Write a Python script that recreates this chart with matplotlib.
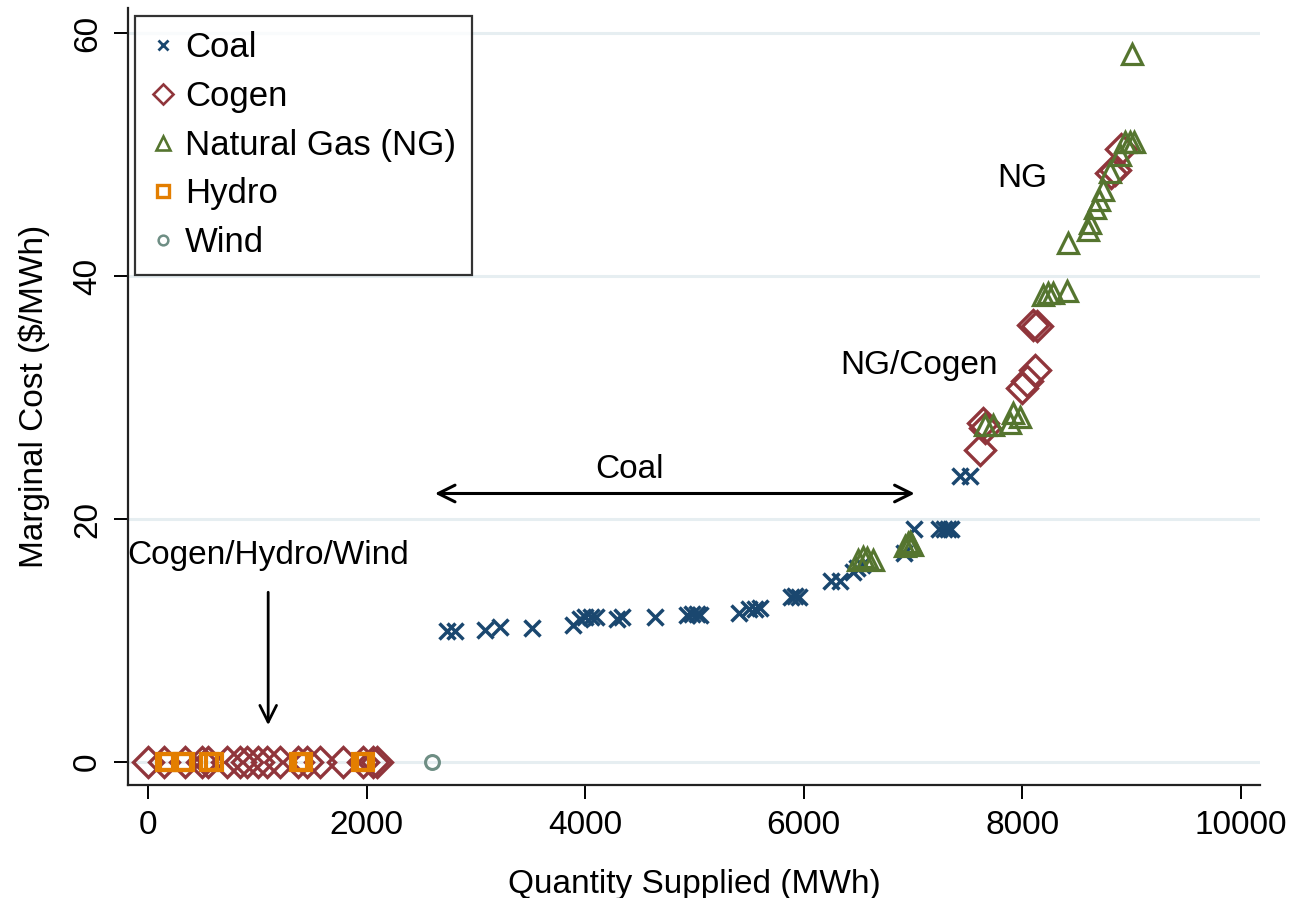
import matplotlib
matplotlib.use('Agg')
import matplotlib.pyplot as plt
from matplotlib.lines import Line2D

plt.rcParams['font.family'] = ['Liberation Sans', 'DejaVu Sans']

# Data
coal_x = [2740, 2810, 3080, 3220, 3510, 3890, 3950, 4000, 4050, 4100, 4290, 4340, 4640,
          4930, 4980, 5020, 5050, 5410, 5500, 5550, 5600, 5880, 5920, 5960, 6250, 6330,
          6450, 6490, 6530, 6920, 7010, 7240, 7280, 7320, 7350, 7430, 7520]
coal_y = [10.8, 10.8, 10.9, 11.1, 11.0, 11.3, 11.8, 11.9, 11.9, 11.9, 11.8, 11.9, 11.9,
          12.1, 12.2, 12.2, 12.1, 12.3, 12.6, 12.6, 12.7, 13.6, 13.7, 13.6, 14.9, 14.9,
          15.6, 16.0, 16.2, 17.2, 19.2, 19.2, 19.2, 19.2, 19.2, 23.5, 23.5]

cogen_x = [0, 150, 340, 495, 550, 720, 840, 905, 1010, 1090, 1210, 1370, 1455, 1575,
           1785, 1965, 2060, 2095,
           7610, 7638, 7660, 7995, 8040, 8114, 8096, 8130, 8810, 8850, 8900]
cogen_y = [0, 0, 0, 0, 0, 0, 0, 0, 0, 0, 0, 0, 0, 0,
           0, 0, 0, 0,
           25.7, 27.9, 27.5, 30.8, 31.4, 32.3, 36.0, 35.9, 48.5, 48.7, 50.5]

ng_x = [6500, 6540, 6580, 6630, 6930, 6950, 6970, 6990, 7660, 7730, 7885, 7913, 7975,
        8187, 8230, 8280, 8405, 8415, 8600, 8620, 8660, 8700, 8740, 8800, 8890, 8940,
        8980, 9020, 9001]
ng_y = [16.6, 16.9, 16.8, 16.6, 17.8, 18.0, 18.1, 17.9, 27.7, 27.7, 27.9, 28.7, 28.4,
        38.4, 38.6, 38.6, 38.8, 42.7, 43.8, 44.4, 45.6, 46.3, 47.1, 48.6, 50.0, 51.0,
        51.0, 51.0, 58.3]

hydro_x = [160, 180, 320, 340, 560, 600, 1380, 1420, 1950, 1990]
hydro_y = [0, 0, 0, 0, 0, 0, 0, 0, 0, 0]

wind_x = [2600]
wind_y = [0]

# Stata s2color palette
c_coal = '#1a476f'
c_cogen = '#90353b'
c_ng = '#55752f'
c_hydro = '#e37e00'
c_wind = '#6e8e84'

fig = plt.figure(figsize=(12.91, 8.98), dpi=100)
ax = fig.add_axes([0.0991, 0.1258, 0.8769, 0.8652])

ax.plot(cogen_x, cogen_y, 'D', ms=15, mfc='none', mec=c_cogen, mew=2.4, ls='none')
ax.plot(hydro_x, hydro_y, 's', ms=12, mfc='none', mec=c_hydro, mew=3, ls='none')
ax.plot(wind_x, wind_y, 'o', ms=10, mfc='none', mec=c_wind, mew=2.2, ls='none')
ax.plot(coal_x, coal_y, 'x', ms=11, mec=c_coal, mew=2.5, ls='none')
ax.plot(ng_x, ng_y, '^', ms=15, mfc='none', mec=c_ng, mew=2.3, ls='none')

ax.set_xlim(-183, 10174)
ax.set_ylim(-1.9, 62.06)
ax.set_xticks([0, 2000, 4000, 6000, 8000, 10000])
ax.set_yticks([0, 20, 40, 60])
ax.yaxis.grid(True, color='#e6eef1', linewidth=2.2)
ax.set_axisbelow(True)

for s in ['top', 'right']:
    ax.spines[s].set_visible(False)
for s in ['left', 'bottom']:
    ax.spines[s].set_linewidth(1.6)
    ax.spines[s].set_color('#222222')

ax.tick_params(axis='both', direction='out', length=10, width=1.4, labelsize=24, pad=8)
for lab in ax.get_yticklabels():
    lab.set_rotation(90)
    lab.set_va('center')

ax.set_xlabel('Quantity Supplied (MWh)', fontsize=24, labelpad=20)
ax.set_ylabel('Marginal Cost (\\$/MWh)', fontsize=24, labelpad=16)

# Annotations
ax.annotate('', xy=(2600, 22.1), xytext=(7040, 22.1),
            arrowprops=dict(arrowstyle='<->', lw=2.2, color='black', mutation_scale=30))
ax.text(4410, 24.1, 'Coal', fontsize=24, ha='center', va='center')
ax.annotate('', xy=(1100, 2.8), xytext=(1100, 14.2),
            arrowprops=dict(arrowstyle='->', lw=2.0, color='black', mutation_scale=30))
ax.text(1100, 17.0, 'Cogen/Hydro/Wind', fontsize=24, ha='center', va='center')
ax.text(7050, 32.6, 'NG/Cogen', fontsize=24, ha='center', va='center')
ax.text(8000, 48.0, 'NG', fontsize=24, ha='center', va='center')

handles = [
    Line2D([], [], marker='x', ls='none', ms=7, mec=c_coal, mew=2),
    Line2D([], [], marker='D', ls='none', ms=10, mfc='none', mec=c_cogen, mew=1.9),
    Line2D([], [], marker='^', ls='none', ms=10, mfc='none', mec=c_ng, mew=1.9),
    Line2D([], [], marker='s', ls='none', ms=8, mfc='none', mec=c_hydro, mew=2.4),
    Line2D([], [], marker='o', ls='none', ms=7, mfc='none', mec=c_wind, mew=1.8),
]
labels = ['Coal', 'Cogen', 'Natural Gas (NG)', 'Hydro', 'Wind']
leg = ax.legend(handles, labels, loc='upper left', bbox_to_anchor=(0.006, 0.99),
                fontsize=25, frameon=True, fancybox=False, edgecolor='black',
                handlelength=0.7, handletextpad=0.3, labelspacing=0.45,
                borderpad=0.45, borderaxespad=0)
leg.get_frame().set_linewidth(1.6)

fig.savefig('out.png', dpi=100)
